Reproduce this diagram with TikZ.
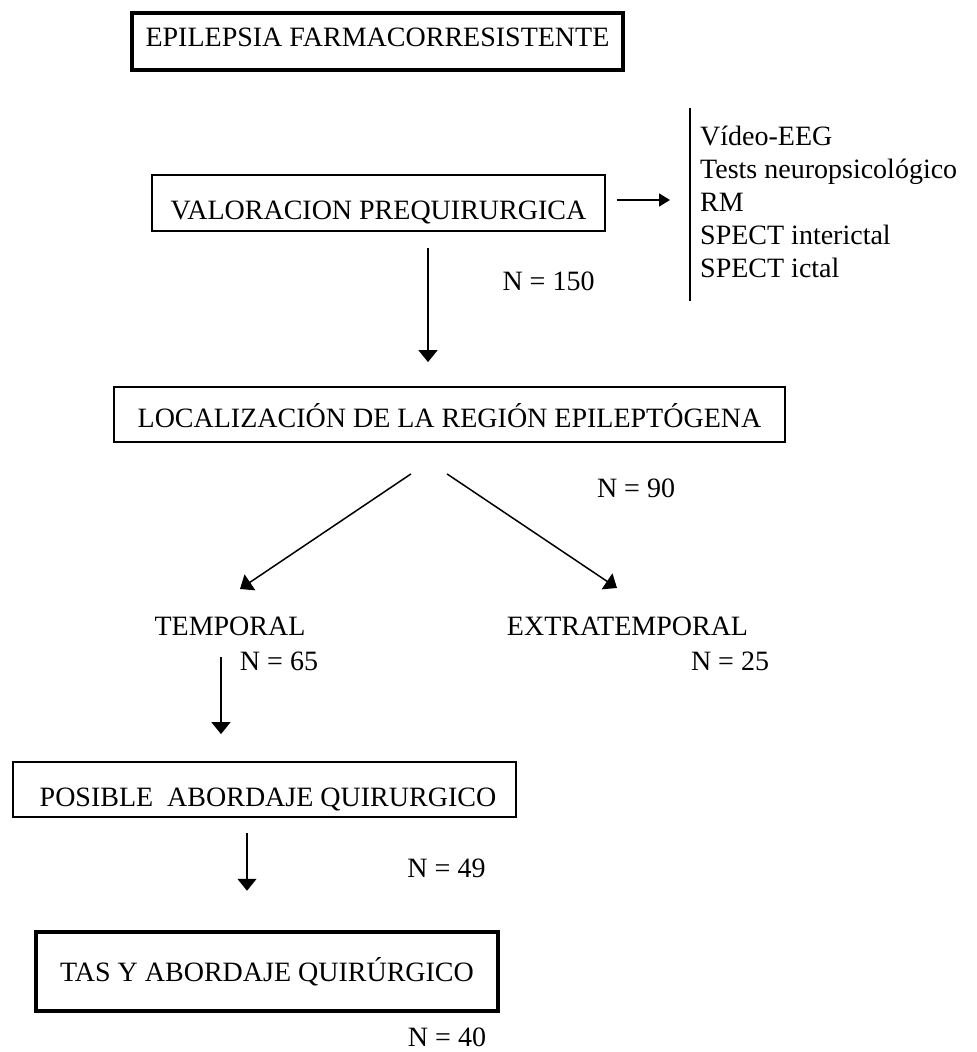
\documentclass[tikz,border=0pt]{standalone}
\usepackage{fontspec}
\setmainfont{Liberation Serif}
\usetikzlibrary{arrows.meta}

\begin{document}
\begin{tikzpicture}[
  x=1pt, y=-1pt,
  every node/.style={font=\fontsize{28}{33}\selectfont, inner sep=0pt},
  box/.style={draw, line width=1.8pt, text depth=0pt},
  thickbox/.style={box, line width=4.5pt},
  lbl/.style={anchor=base},
  flow/.style={-{Triangle[length=12pt,width=19pt]}, line width=1.5pt}
]
\useasboundingbox (0,0) rectangle (977,1052);
% boxes
\node[thickbox, minimum width=491pt, minimum height=57pt, text height=10.6pt] (epi) at (377.5,41.5) {EPILEPSIA FARMACORRESISTENTE};
\node[box, minimum width=453pt, minimum height=56pt, text height=33.5pt] (val) at (378.5,203) {VALORACION PREQUIRURGICA};
\node[box, minimum width=671pt, minimum height=55pt, text height=26.5pt] (loc) at (449.5,414.5) {LOCALIZACIÓN DE LA REGIÓN EPILEPTÓGENA};
\node[box, minimum width=503pt, minimum height=55pt, text height=34.5pt] (pos) at (264.5,789.5) {\ POSIBLE\ \ ABORDAJE QUIRURGICO};
\node[thickbox, minimum width=462pt, minimum height=79pt, text height=19.5pt] (tas) at (267,971.5) {TAS Y ABORDAJE QUIRÚRGICO};
% tests list (base = last line)
\node[anchor=base west, align=left] (tests) at (700,277) {Vídeo-EEG\\Tests neuropsicológico\\RM\\SPECT interictal\\SPECT ictal};
\draw[line width=2.6pt] ([xshift=-10pt,yshift=17pt]tests.north west) -- ([xshift=-10pt,yshift=-24pt]tests.south west);
% branches
\node[lbl] (temp) at (230,635) {TEMPORAL};
\node[lbl] (extra) at (627.5,635) {EXTRATEMPORAL};
% counts
\node[lbl] (n150) at (548.5,290) {N = 150};
\node[lbl] (n90) at (636,497) {N = 90};
\node[lbl] (n65) at (279,670) {N = 65};
\node[lbl] (n25) at (730,670) {N = 25};
\node[lbl] (n49) at (446.5,877) {N = 49};
\node[lbl] (n40) at (447,1046) {N = 40};
% arrows
\draw[-{Triangle[length=11pt,width=13pt]}, line width=1.5pt] ([xshift=11pt,yshift=3pt]val.east) -- ([xshift=-30pt,yshift=3pt]tests.west |- val.east);
\draw[flow] ([xshift=49.5pt,yshift=-16pt]val.south) -- ([xshift=-21.5pt,yshift=24pt]loc.north);
\draw[flow] ([xshift=-38.5pt,yshift=-31pt]loc.south) -- ([xshift=10pt,yshift=46pt]temp.base);
\draw[flow] ([xshift=-2.5pt,yshift=-31pt]loc.south) -- ([xshift=-10.5pt,yshift=47pt]extra.base);
\draw[flow] ([xshift=-9pt,yshift=-22pt]temp.base) -- ([xshift=-43.5pt,yshift=27pt]pos.north);
\draw[flow] ([xshift=-17.5pt,yshift=-15pt]pos.south) -- ([xshift=-20pt,yshift=39pt]tas.north);
\end{tikzpicture}
\end{document}
